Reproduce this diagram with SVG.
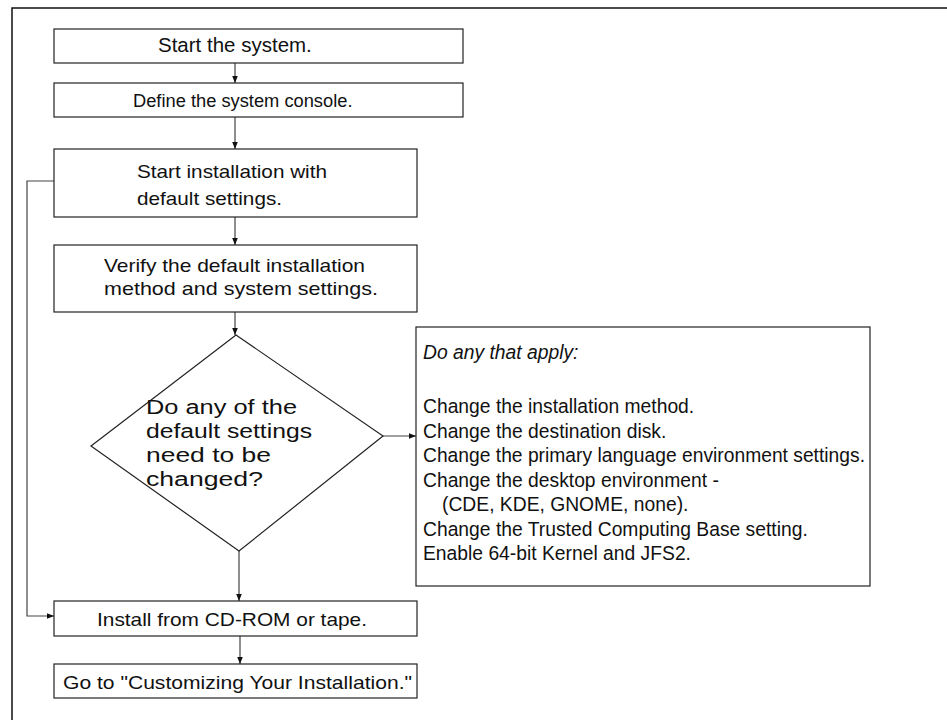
<svg xmlns="http://www.w3.org/2000/svg" width="947" height="720" viewBox="0 0 947 720">
<defs>
<style>
.box{fill:#fff;stroke:#222;stroke-width:1.2}
.t{font-family:"Liberation Sans",Arial,sans-serif;font-size:19px;fill:#111}
.r{font-size:19.3px}
.d{font-size:20px}
.c{text-anchor:middle}
.i{font-style:italic}
.ln{fill:none;stroke:#444;stroke-width:1.2}
</style>
<marker id="ah" viewBox="0 0 10 10" refX="10" refY="5" markerWidth="7" markerHeight="7" markerUnits="userSpaceOnUse" orient="auto">
<path d="M0,1 L10,5 L0,9 Z" fill="#111"/>
</marker>
</defs>
<rect width="947" height="720" fill="#fff"/>
<path d="M12,720 L12,8 L947,8" fill="none" stroke="#111" stroke-width="1.5"/>
<g id="connectors">
<line class="ln" x1="235" y1="63" x2="235" y2="83" marker-end="url(#ah)"/>
<line class="ln" x1="235" y1="117" x2="235" y2="149" marker-end="url(#ah)"/>
<line class="ln" x1="235" y1="217" x2="235" y2="245" marker-end="url(#ah)"/>
<line class="ln" x1="235" y1="312" x2="235" y2="335" marker-end="url(#ah)"/>
<line class="ln" x1="383" y1="436" x2="416" y2="436" marker-end="url(#ah)"/>
<line class="ln" x1="239" y1="551" x2="239" y2="601" marker-end="url(#ah)"/>
<line class="ln" x1="240" y1="636" x2="240" y2="664" marker-end="url(#ah)"/>
<polyline class="ln" points="54,181 27,181 27,616 54,616" marker-end="url(#ah)"/>
</g>
<g id="n1">
<rect class="box" x="54" y="29" width="409" height="34"/>
<text class="t" x="158" y="52" style="font-size:20.5px">Start the system.</text>
</g>
<g id="n2">
<rect class="box" x="54" y="83" width="409" height="34"/>
<text class="t" x="133" y="107" style="font-size:18.3px">Define the system console.</text>
</g>
<g id="n3">
<rect class="box" x="54" y="149" width="363" height="68"/>
<text class="t" x="137" y="178" textLength="190" lengthAdjust="spacingAndGlyphs">Start installation with</text>
<text class="t" x="137" y="205" textLength="145" lengthAdjust="spacingAndGlyphs">default settings.</text>
</g>
<g id="n4">
<rect class="box" x="54" y="245" width="363" height="67"/>
<text class="t" x="104" y="272" textLength="261" lengthAdjust="spacingAndGlyphs">Verify the default installation</text>
<text class="t" x="104" y="295" textLength="274" lengthAdjust="spacingAndGlyphs">method and system settings.</text>
</g>
<g id="n5">
<polygon class="box" points="236,335 383,436 239,551 91,446"/>
<text class="t d" x="146" y="414" textLength="151" lengthAdjust="spacingAndGlyphs">Do any of the</text>
<text class="t d" x="146" y="438" textLength="166" lengthAdjust="spacingAndGlyphs">default settings</text>
<text class="t d" x="146" y="462" textLength="125" lengthAdjust="spacingAndGlyphs">need to be</text>
<text class="t d" x="146" y="486" textLength="117" lengthAdjust="spacingAndGlyphs">changed?</text>
</g>
<g id="n6">
<rect class="box" x="416" y="327" width="454" height="259"/>
<text class="t r i" x="423" y="359">Do any that apply:</text>
<text class="t r" x="423" y="413">Change the installation method.</text>
<text class="t r" x="423" y="437.5">Change the destination disk.</text>
<text class="t r" x="423" y="462" textLength="442" lengthAdjust="spacingAndGlyphs">Change the primary language environment settings.</text>
<text class="t r" x="423" y="486.5">Change the desktop environment -</text>
<text class="t r" x="442" y="511">(CDE, KDE, GNOME, none).</text>
<text class="t r" x="423" y="535.5">Change the Trusted Computing Base setting.</text>
<text class="t r" x="423" y="560">Enable 64-bit Kernel and JFS2.</text>
</g>
<g id="n7">
<rect class="box" x="54" y="601" width="363" height="35"/>
<text class="t" x="97" y="626" textLength="270" lengthAdjust="spacingAndGlyphs">Install from CD-ROM or tape.</text>
</g>
<g id="n8">
<rect class="box" x="54" y="664" width="363" height="34"/>
<text class="t" x="63" y="689" textLength="349" lengthAdjust="spacingAndGlyphs">Go to "Customizing Your Installation."</text>
</g>
</svg>
